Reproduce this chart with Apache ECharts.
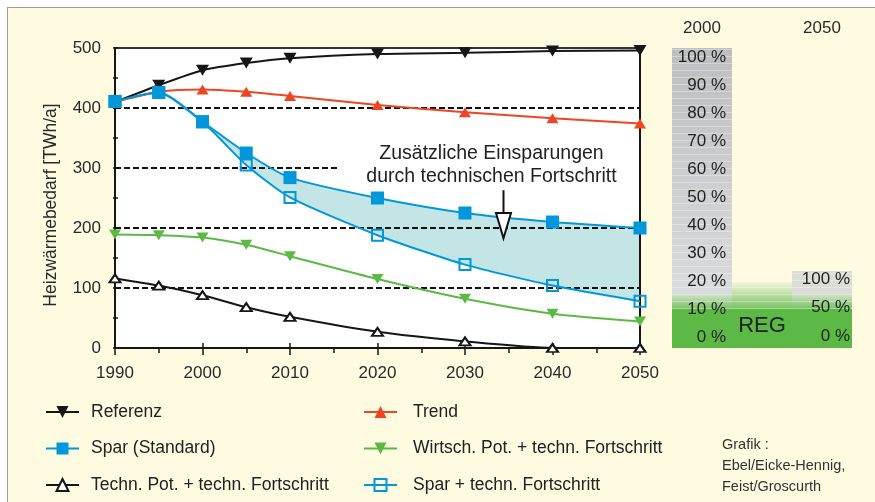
<!DOCTYPE html>
<html><head><meta charset="utf-8">
<script src="https://cdn.jsdelivr.net/npm/echarts@6/dist/echarts.min.js"></script>
<style>
html,body{margin:0;padding:0;background:#fff;}
#wrap{position:relative;width:875px;height:502px;overflow:hidden;}
#bg{position:absolute;left:7px;top:7px;width:868px;height:495px;background:#fefbe1;border-top:1px solid #9c9c9c;border-left:1px solid #9c9c9c;box-sizing:border-box;}
#chart{position:absolute;left:0;top:0;width:875px;height:502px;}
</style></head><body>
<div id="wrap"><div id="bg"></div><div id="chart"></div></div>
<script>
// ---- data ----
const years     = [1990, 1995, 2000, 2005, 2010, 2020, 2030, 2040, 2050];
const referenz  = [410, 438, 463, 475, 483, 490, 492, 495, 496];
const trend     = [410, 427, 431, 427, 420, 405, 393, 383, 374];
const spar      = [411, 426, 377, 325, 284, 250, 225, 210, 200];
const sparTech  = [411, 426, 377, 305, 251, 188, 139, 104, 78];
const wirtsch   = [189, 188, 184, 172, 153, 115, 82, 57, 44];
const technPot  = [116, 104, 88, 68, 52, 27, 11, 0, 0];
const yTicksMain = [0, 100, 200, 300, 400, 500];
const xTicks     = [1990, 2000, 2010, 2020, 2030, 2040, 2050];
// right panel (share of renewables, REG)
const panelCats   = ['2000', 'REG', '2050'];
const greenSolid  = [13, 13, 13];
const greenFade   = [5, 9, 5];
const grayPart    = [82, 0, 7.7];
const pct2000     = [0, 10, 20, 30, 40, 50, 60, 70, 80, 90, 100];
const pct2050     = [0, 50, 100];
// annotation arrow (year, values)
const arrow = {year: 2034.4, from: 263, neck: 225, tip: 183};

const FONT = "'Liberation Sans', Arial, Helvetica, sans-serif";
const BLUE = '#0098da', RED = '#ee4524', GREEN = '#5cb946', BLACK = '#161616';
const S = 0.22;
const pts = arr => years.map((y, i) => [y, arr[i]]);

const chart = echarts.init(document.getElementById('chart'), null, {renderer: 'canvas'});

function lineSeries(name, arr, extra) {
  return Object.assign({
    name, type: 'line', data: pts(arr), smooth: S, clip: false, z: 10,
    xAxisIndex: 0, yAxisIndex: 0, silent: true
  }, extra);
}

const refData = pts(referenz).map((p, i) => i === 0 ? {value: p, symbol: 'none'} : p);
const trendData = pts(trend).map((p, i) => i === 0 ? {value: p, symbol: 'none'} : p);
const stripes = {symbol: 'rect', symbolSize: 1, dashArrayX: [[1, 0]], dashArrayY: [1, 6],
                 color: 'rgba(255,252,226,0.35)', rotation: 0};

const option = {
  animation: false,
  textStyle: {fontFamily: FONT},
  grid: [
    {left: 115, right: 235, top: 48, bottom: 154, show: true, backgroundColor: '#ffffff', borderWidth: 0},
    {left: 672, right: 23, top: 48, bottom: 154},
    {left: 672, width: 56, top: 48, bottom: 154},
    {left: 794, width: 58, top: 48, bottom: 154}
  ],
  xAxis: [
    {gridIndex: 0, type: 'value', min: 1990, max: 2050, interval: 10, position: 'bottom', z: 3,
     axisLine: {onZero: false, lineStyle: {color: BLACK, width: 2}},
     axisTick: {length: 7, lineStyle: {color: BLACK, width: 1.5}},
     minorTick: {show: true, splitNumber: 2, length: 5, lineStyle: {color: BLACK, width: 1.5}},
     axisLabel: {fontSize: 17, color: '#2a2a2a', margin: 17, fontFamily: FONT,
       formatter: v => xTicks.includes(v) ? String(v) : ''},
     splitLine: {show: false}},
    {gridIndex: 0, type: 'value', min: 1990, max: 2050, interval: 10, position: 'bottom', z: 3,
     axisLine: {show: false, onZero: false}, axisTick: {inside: true, length: 5, lineStyle: {color: BLACK, width: 1.5}},
     axisLabel: {show: false}, splitLine: {show: false}},
    {gridIndex: 0, type: 'value', min: 1990, max: 2050, position: 'top', z: 3,
     axisLine: {onZero: false, lineStyle: {color: '#333', width: 2}}, axisTick: {show: false},
     axisLabel: {show: false}, splitLine: {show: false}},
    {gridIndex: 1, type: 'category', data: panelCats, position: 'top',
     axisLine: {show: false}, axisTick: {show: false},
     axisLabel: {fontSize: 17, color: '#2a2a2a', margin: 11, fontFamily: FONT,
       formatter: v => v === 'REG' ? '' : v}},
    {gridIndex: 2, type: 'value', show: false},
    {gridIndex: 3, type: 'value', show: false}
  ],
  yAxis: [
    {gridIndex: 0, type: 'value', min: 0, max: 500, interval: 50, z: 3,
     axisLine: {show: true, onZero: false, lineStyle: {color: BLACK, width: 2}},
     axisTick: {show: true, length: 2, lineStyle: {color: BLACK, width: 1.5}},
     axisLabel: {fontSize: 17, color: '#2a2a2a', margin: 14, fontFamily: FONT,
       formatter: v => yTicksMain.includes(v) ? String(v) : ''},
     splitLine: {show: false},
     name: 'Heizwärmebedarf [TWh/a]', nameLocation: 'middle', nameGap: 55,
     nameTextStyle: {fontSize: 17.5, color: '#2a2a2a', fontFamily: FONT, padding: [0, 14, 0, 0]}},
    {gridIndex: 0, type: 'value', min: 0, max: 500, interval: 50, position: 'left', z: 3,
     axisLine: {show: false, onZero: false}, axisTick: {show: true, inside: true, length: 3, lineStyle: {color: BLACK, width: 1.5}},
     axisLabel: {show: false}, splitLine: {show: false}},
    {gridIndex: 0, type: 'value', min: 0, max: 500, position: 'right', z: 3,
     axisLine: {show: true, onZero: false, lineStyle: {color: BLACK, width: 2}}, axisTick: {show: false},
     axisLabel: {show: false}, splitLine: {show: false}},
    {gridIndex: 1, type: 'value', min: 0, max: 100, show: false},
    {gridIndex: 2, type: 'value', min: -3.93, max: 103.21, position: 'right', z: 6,
     axisLine: {show: false}, axisTick: {show: false}, splitLine: {show: false},
     axisLabel: {inside: true, margin: 2, fontSize: 17, color: '#222', fontFamily: FONT,
       customValues: pct2000, formatter: v => v + ' %'}},
    {gridIndex: 3, type: 'value', min: -21.05, max: 505.3, position: 'right', z: 6,
     axisLine: {show: false}, axisTick: {show: false}, splitLine: {show: false},
     axisLabel: {inside: true, margin: 2, fontSize: 17, color: '#222', fontFamily: FONT,
       customValues: pct2050, formatter: v => v + ' %'}}
  ],
  legend: [
    {data: ['Referenz', 'Spar (Standard)', 'Techn. Pot. + techn. Fortschritt'],
     orient: 'vertical', left: 45, top: 403, height: 130, padding: 0,
     itemWidth: 33, itemHeight: 15, itemGap: 18.5, selectedMode: false,
     textStyle: {fontSize: 17.5, color: '#222', lineHeight: 18, padding: [0, 0, 0, 7], fontFamily: FONT}},
    {data: ['Trend', 'Wirtsch. Pot. + techn. Fortschritt', 'Spar + techn. Fortschritt'],
     orient: 'vertical', left: 363, top: 403, height: 130, padding: 0,
     itemWidth: 33, itemHeight: 15, itemGap: 18.5, selectedMode: false,
     textStyle: {fontSize: 17.5, color: '#222', lineHeight: 18, padding: [0, 0, 0, 11], fontFamily: FONT}}
  ],
  series: [
    // shaded band between "Spar (Standard)" and "Spar + techn. Fortschritt"
    {name: 'bandTop', type: 'line', data: pts(spar), smooth: S, symbol: 'none', silent: true, z: 1,
     lineStyle: {width: 0}, areaStyle: {color: '#c4e5e6', opacity: 1, origin: 2}},
    {name: 'bandBottom', type: 'line', data: pts(sparTech), smooth: S, symbol: 'none', silent: true, z: 1,
     lineStyle: {width: 0}, areaStyle: {color: '#ffffff', opacity: 1, origin: 2},
     markLine: {silent: true, symbol: 'none', z: 5, label: {show: false},
       lineStyle: {color: '#111', type: [6, 3], width: 2},
       data: [{yAxis: 400}, {yAxis: 200}, {yAxis: 100},
              [{coord: [1990, 300]}, {coord: [2015.5, 300]}]]}},
    lineSeries('Techn. Pot. + techn. Fortschritt', technPot, {
      symbol: 'triangle', symbolSize: [11, 8],
      itemStyle: {color: '#ffffff', borderColor: BLACK, borderWidth: 2},
      lineStyle: {color: BLACK, width: 2}}),
    lineSeries('Wirtsch. Pot. + techn. Fortschritt', wirtsch, {
      symbol: 'triangle', symbolRotate: 180, symbolSize: [12, 10],
      itemStyle: {color: GREEN}, lineStyle: {color: GREEN, width: 2}}),
    lineSeries('Spar + techn. Fortschritt', sparTech, {
      symbol: 'rect', symbolSize: 11,
      itemStyle: {color: 'rgba(255,255,255,0)', borderColor: BLUE, borderWidth: 2},
      lineStyle: {color: BLUE, width: 2}}),
    Object.assign(lineSeries('Referenz', referenz, {
      symbol: 'triangle', symbolRotate: 180, symbolSize: [13, 11],
      itemStyle: {color: BLACK}, lineStyle: {color: BLACK, width: 2}}), {data: refData}),
    Object.assign(lineSeries('Trend', trend, {
      symbol: 'triangle', symbolSize: [12, 10],
      itemStyle: {color: RED}, lineStyle: {color: RED, width: 2}}), {data: trendData}),
    lineSeries('Spar (Standard)', spar, {
      symbol: 'rect', symbolSize: 13,
      itemStyle: {color: BLUE}, lineStyle: {color: BLUE, width: 2}}),
    // right panel
    {name: 'p_green', type: 'bar', xAxisIndex: 3, yAxisIndex: 3, stack: 'p', barCategoryGap: '0%', silent: true,
     data: greenSolid.map((v, i) => i === 1 ? {value: v,
       label: {show: true, formatter: 'REG', position: 'inside', offset: [0, -3], fontSize: 22, color: '#222', fontFamily: FONT}} : v),
     itemStyle: {color: GREEN}},
    {name: 'p_fade', type: 'bar', xAxisIndex: 3, yAxisIndex: 3, stack: 'p', barCategoryGap: '0%', silent: true,
     data: greenFade.map((v, i) => ({value: v, itemStyle: {decal: stripes, color: new echarts.graphic.LinearGradient(0, 1, 0, 0, [
       {offset: 0, color: '#78c262'},
       {offset: 1, color: i === 1 ? '#f4f6dc' : '#d3e3cf'}])}}))},
    {name: 'p_gray', type: 'bar', xAxisIndex: 3, yAxisIndex: 3, stack: 'p', barCategoryGap: '0%', silent: true,
     data: grayPart.map((v, i) => ({value: v, itemStyle: {decal: stripes, color: i === 0
       ? new echarts.graphic.LinearGradient(0, 0, 0, 1, [{offset: 0, color: '#bdbec2'}, {offset: 1, color: '#dadbde'}])
       : '#dcdcd8'}}))}
  ],
  graphic: [
    {type: 'text', id: 'annot', x: 491.5, y: 142.5, z: 20,
     style: {text: 'Zusätzliche Einsparungen\ndurch technischen Fortschritt', align: 'center',
       font: '19.5px ' + FONT, lineHeight: 23, fill: '#222'}},
    {type: 'text', id: 'credit', x: 722, y: 434.5, z: 20,
     style: {text: 'Grafik :\nEbel/Eicke-Hennig,\nFeist/Groscurth', font: '14.5px ' + FONT, lineHeight: 21, fill: '#333'}}
  ]
};
chart.setOption(option);

// arrow in data coordinates
const pTop  = chart.convertToPixel({gridIndex: 0}, [arrow.year, arrow.from]);
const pNeck = chart.convertToPixel({gridIndex: 0}, [arrow.year, arrow.neck]);
const pTip  = chart.convertToPixel({gridIndex: 0}, [arrow.year, arrow.tip]);
chart.setOption({graphic: [
  {type: 'line', id: 'arrowLine', z: 20, shape: {x1: pTop[0], y1: pTop[1], x2: pNeck[0], y2: pNeck[1]},
   style: {stroke: '#111', lineWidth: 2}},
  {type: 'polygon', id: 'arrowHead', z: 20,
   shape: {points: [[pNeck[0] - 7.5, pNeck[1]], [pNeck[0] + 7.5, pNeck[1]], [pTip[0], pTip[1]]]},
   style: {fill: '#fff', stroke: '#111', lineWidth: 2, lineJoin: 'miter'}}
]});
</script>
</body></html>
